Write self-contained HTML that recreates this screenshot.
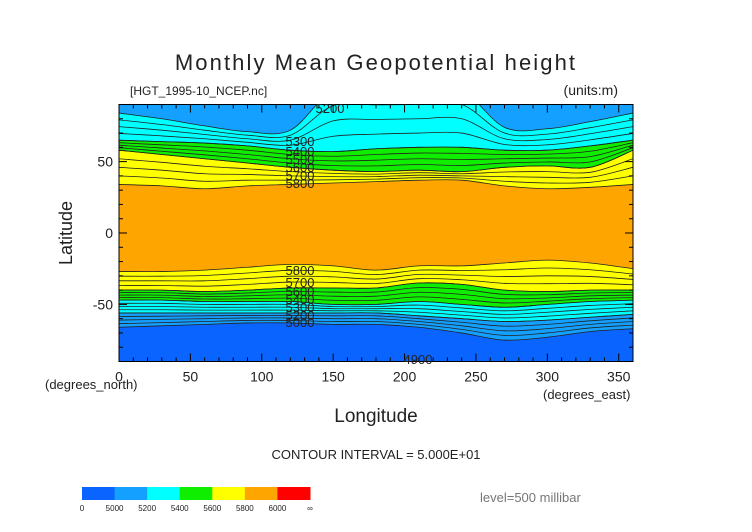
<!DOCTYPE html>
<html><head><meta charset="utf-8"><style>
body{margin:0;background:#fff;}
svg{display:block;font-family:"Liberation Sans",sans-serif;}
</style></head><body>
<svg id="chart" width="752" height="532" viewBox="0 0 752 532">
<text x="376" y="70" text-anchor="middle" font-size="22" letter-spacing="2.1" fill="#222">Monthly Mean Geopotential height</text>
<text x="130" y="95" font-size="12" fill="#222">[HGT_1995-10_NCEP.nc]</text>
<text x="618" y="95" text-anchor="end" font-size="14" fill="#222">(units:m)</text>
<g id="plot"></g>
<text transform="translate(72,233) rotate(-90)" text-anchor="middle" font-size="18" fill="#222">Latitude</text>
<text x="376" y="422" text-anchor="middle" font-size="19" fill="#222">Longitude</text>
<text x="45" y="389" font-size="13" fill="#222">(degrees_north)</text>
<text x="543" y="399" font-size="13" fill="#222">(degrees_east)</text>
<text x="376" y="459" text-anchor="middle" font-size="13" fill="#222">CONTOUR INTERVAL = 5.000E+01</text>
<text x="480" y="502" font-size="13" fill="#777">level=500 millibar</text>
<g id="cbar"></g>
</svg>
<script>
const lons=[0,30,60,90,120,150,180,210,240,270,300,330,360];
const n5800=[34,33,31,33,34,35,36,37,37,33,31,32,34];
const n5600=[58,55,52,49,46,44,43,44,43,46,47,46,58];
const n5400=[65,64,63,61,58,57,59,60,60,58,58,61,65];
const n5200=[84,80,75,71,72,100,100,100,100,74,73,78,84];
const s5800=[-27,-27,-26,-24,-22,-23,-26,-23,-23,-21,-19,-21,-25];
const s5600=[-40,-40,-41,-40,-38.5,-38.5,-38.5,-35,-36,-40,-41,-40,-40];
const s5400=[-47,-47,-48,-48,-48,-50,-50,-48,-50,-52,-50,-48,-47];
const s5200=[-56,-56,-56,-56,-56,-56,-56,-58,-60,-62,-61,-59,-57];
const s5000=[-66,-65,-64,-63,-63,-64,-64,-66,-70,-75,-73,-69,-67];
const xTicks=[0,50,100,150,200,250,300,350];
const yTicks=[50,0,-50];
const cbarLabels=["0","5000","5200","5400","5600","5800","6000","\u221e"];
const cbarColors=["#0a64ff","#14a0ff","#00ffff","#10ee00","#ffff00","#ffa500","#ff0000"];

const X0=119,X1=633,Y0=104.5,Y1=361.5;
const sx=l=>X0+(l/360)*(X1-X0);
const sy=la=>Y0+((90-la)/180)*(Y1-Y0);
const NS="http://www.w3.org/2000/svg";
const plot=document.getElementById('plot');
function mk(t,a,p){const e=document.createElementNS(NS,t);for(const k in a)e.setAttribute(k,a[k]);(p||plot).appendChild(e);return e;}
function curve(arr){
  const pts=lons.map((l,i)=>[sx(l),sy(arr[i])]);
  let d="M"+pts[0][0]+","+pts[0][1];
  for(let i=0;i<pts.length-1;i++){
    const p0=pts[Math.max(0,i-1)],p1=pts[i],p2=pts[i+1],p3=pts[Math.min(pts.length-1,i+2)];
    const c1=[p1[0]+(p2[0]-p0[0])/6,p1[1]+(p2[1]-p0[1])/6];
    const c2=[p2[0]-(p3[0]-p1[0])/6,p2[1]-(p3[1]-p1[1])/6];
    d+=" C"+c1[0]+","+c1[1]+" "+c2[0]+","+c2[1]+" "+p2[0]+","+p2[1];
  }
  return d;
}
const defs=mk('defs',{});
const cp=mk('clipPath',{id:'pc'},defs);
mk('rect',{x:X0,y:Y0,width:X1-X0,height:Y1-Y0},cp);
const g=mk('g',{'clip-path':'url(#pc)'});
let r=mk('rect',{x:X0,y:Y0,width:X1-X0,height:Y1-Y0,fill:'#ffa500'},g);


const north=[[n5800,'#ffff00','band-north-5600-5800'],[n5600,'#10ee00','band-north-5400-5600'],[n5400,'#00ffff','band-north-5200-5400'],[n5200,'#14a0ff','band-north-5000-5200']];
north.forEach(([a,c,n])=>{
  const p=mk('path',{d:curve(a)+" L"+X1+","+(Y0-20)+" L"+X0+","+(Y0-20)+" Z",fill:c},g);
  
  
});
const south=[[s5800,'#ffff00','band-south-5600-5800'],[s5600,'#10ee00','band-south-5400-5600'],[s5400,'#00ffff','band-south-5200-5400'],[s5200,'#14a0ff','band-south-5000-5200'],[s5000,'#0a64ff','band-south-below-5000']];
south.forEach(([a,c,n])=>{
  const p=mk('path',{d:curve(a)+" L"+X1+","+(Y1+20)+" L"+X0+","+(Y1+20)+" Z",fill:c},g);
  
  
});
function blend(a,b,t){return a.map((v,i)=>v+(b[i]-v)*t);}
const groups=[[n5800,n5600],[n5600,n5400],[n5400,n5200],[s5800,s5600],[s5600,s5400],[s5400,s5200],[s5200,s5000]];
groups.forEach(([a,b])=>{
  [0,0.25,0.5,0.75,1].forEach(t=>{
    const p=mk('path',{d:curve(blend(a,b,t)),fill:'none',stroke:'#222','stroke-width':0.8},g);
    
    
  });
});
const fr=mk('rect',{x:X0,y:Y0,width:X1-X0,height:Y1-Y0,fill:'none',stroke:'#000','stroke-width':1});


for(let l=0;l<=360;l+=10){
  const len=l%50===0?8:4;
  mk('line',{x1:sx(l),x2:sx(l),y1:Y1,y2:Y1-len,stroke:'#000'});
  mk('line',{x1:sx(l),x2:sx(l),y1:Y0,y2:Y0+len,stroke:'#000'});
}
for(let la=-90;la<=90;la+=10){
  const len=la%50===0?8:4;
  mk('line',{x1:X0,x2:X0+len,y1:sy(la),y2:sy(la),stroke:'#000'});
  mk('line',{x1:X1,x2:X1-len,y1:sy(la),y2:sy(la),stroke:'#000'});
}
xTicks.forEach(v=>{
  const t=mk('text',{x:sx(v),y:Y1+20,'text-anchor':'middle','font-size':14,fill:'#222'});
  t.textContent=v;
  
  
});
yTicks.forEach(v=>{
  const t=mk('text',{x:X0-6,y:sy(v)+5,'text-anchor':'end','font-size':14,fill:'#222'});
  t.textContent=v;
  
  
});
[["5200",330,113],["5300",300,146],["5400",300,156],["5500",300,164],["5600",300,172],["5700",300,180],["5800",300,188],["5800",300,275],["5700",300,287],["5600",300,296],["5400",300,304],["5300",300,312],["5200",300,320],["5000",300,327],["4900",418,364]].forEach(([s,x,y])=>{
  const t=mk('text',{x:x,y:y,'text-anchor':'middle','font-size':13,fill:'#222'});
  t.textContent=s;
  
  
});
const cb=document.getElementById('cbar');
const cw=(310-82)/cbarColors.length;
cbarColors.forEach((c,i)=>{
  const e=mk('rect',{x:82+i*cw,y:487,width:cw+0.5,height:13,fill:c},cb);
  
  
});
cbarLabels.forEach((s,i)=>{
  const t=mk('text',{x:82+i*cw,y:511,'text-anchor':'middle','font-size':8,fill:'#222'},cb);
  t.textContent=s;
  
  
});
</script>
</body></html>
